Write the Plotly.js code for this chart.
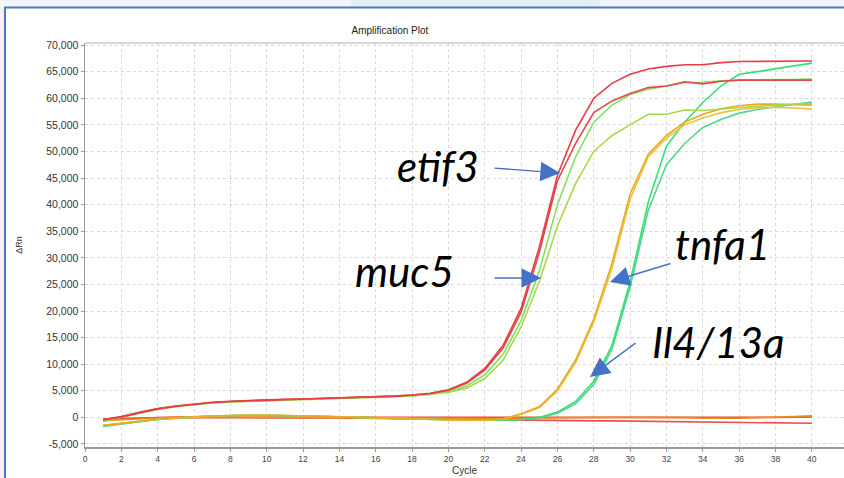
<!DOCTYPE html>
<html>
<head>
<meta charset="utf-8">
<script src="https://cdn.plot.ly/plotly-3.0.1.min.js"></script>
<style>html,body{margin:0;padding:0;background:#fff;}#chart{width:844px;height:478px;}</style>
</head>
<body>
<div id="chart"></div>
<script>
const cycles = Array.from({length: 40}, (_, i) => i + 1);

// etif3 (red)
const etif3A = [-500,100,900,1600,2100,2500,2800,3000,3150,3250,3350,3450,3550,3600,3700,3850,4000,4200,4550,
  5200,6600,9200,13500,20500,32000,45500,54000,60000,62800,64500,65500,66000,66300,66300,66700,66900,66900,66900,66900,67000];
const etif3B = [-400,150,950,1650,2150,2550,2850,3050,3200,3300,3400,3450,3550,3600,3700,3850,4000,4200,4500,
  5100,6400,8900,13000,19800,31000,44500,51500,57300,59500,60900,62000,62300,63100,62700,63200,63400,63400,63400,63300,63400];
// muc5 (green)
const muc5A = [-600,50,850,1550,2050,2450,2750,2950,3100,3200,3300,3400,3500,3550,3650,3800,3950,4100,4400,
  4900,5900,8000,11800,18200,27500,40000,49000,55500,58700,60700,61700,62300,62900,63000,63300,63400,63500,63500,63500,63600];
const muc5B = [-700,0,800,1500,2000,2400,2700,2900,3050,3150,3250,3350,3450,3500,3600,3750,3900,4050,4300,
  4700,5500,7300,10700,17000,25500,36000,44000,50000,53000,55000,57000,57000,57800,57700,58000,58300,58500,58700,58900,59000];
// tnfa1 (orange)
const tnfa1A = [-1500,-1100,-700,-350,-100,100,250,350,400,400,350,300,200,100,0,-100,-200,-300,-400,-500,-550,-500,-300,
  700,2000,5300,10800,18500,29000,42000,49500,53000,55500,57000,58000,58600,58900,58900,58800,58700];
const tnfa1B = [-1500,-1100,-700,-350,-100,100,250,350,400,400,350,300,200,100,0,-100,-200,-300,-400,-500,-550,-550,-350,
  600,1800,5000,10300,18000,28000,41000,49000,52500,55000,56300,57300,57900,58200,58300,58200,58000];
// Il4/13a (green)
const il4A = [-1600,-1150,-750,-400,-100,100,250,350,400,400,350,300,200,100,0,-100,-200,-300,-400,-500,-550,-550,-500,
  -400,0,1000,3000,6800,13500,25500,40500,51000,55500,59200,62300,64500,65000,65500,66100,66600];
const il4B = [-1700,-1200,-800,-400,-100,100,250,350,400,400,350,300,200,100,0,-100,-200,-300,-400,-500,-550,-550,-500,
  -450,-100,800,2600,6200,12800,24500,39000,47500,51500,54500,56000,57200,57900,58400,58900,59300];
// no amplification
const flatA = [-400,-250,-150,-50,0,0,0,0,0,0,0,0,-50,-100,-150,-200,-200,-250,-300,-300,-350,-400,-450,-500,-550,-600,-600,-650,-650,-700,-700,-750,-800,-850,-850,-900,-950,-1050,-1100,-1100];
const flatB = [-300,-200,-100,-50,0,0,0,0,0,0,0,0,0,0,0,0,0,0,0,-50,-50,-100,-100,-100,-50,0,0,0,0,0,0,0,0,0,0,0,0,0,50,100];
const flatC = [-600,-400,-250,-100,0,50,50,50,50,0,0,0,0,0,0,0,0,-50,-100,-150,-200,-250,-200,-150,-100,-50,0,0,0,0,0,0,-50,-150,-200,-150,-50,0,150,300];

const xTicks = [0,2,4,6,8,10,12,14,16,18,20,22,24,26,28,30,32,34,36,38,40];
const yTicks = [-5000,0,5000,10000,15000,20000,25000,30000,35000,40000,45000,50000,55000,60000,65000,70000];
const yTickText = ['-5,000','0','5,000','10,000','15,000','20,000','25,000','30,000','35,000','40,000','45,000','50,000','55,000','60,000','65,000','70,000'];

const series = [
  {y: flatA, c: '#e8505a'},
  {y: flatB, c: '#e84a30'},
  {y: flatC, c: '#e8901c'},
  {y: il4B, c: '#4cd88a'},
  {y: il4A, c: '#34e074'},
  {y: tnfa1B, c: '#f0c040'},
  {y: tnfa1A, c: '#e6ac20'},
  {y: muc5B, c: '#a8d848'},
  {y: muc5A, c: '#82e060'},
  {y: etif3B, c: '#e24848'},
  {y: etif3A, c: '#ea3c44'}
];
const traces = series.map(s => ({
  x: cycles, y: s.y, type: 'scatter', mode: 'lines',
  line: {color: s.c, width: 1.6}, hoverinfo: 'skip', showlegend: false
}));

const labelFont = {family: 'Lato, "Open Sans", sans-serif', size: 42, color: '#000', style: 'italic'};
const arrowBlue = '#4472c4';
const arrowOpts = {text: '', showarrow: true, arrowhead: 2, arrowsize: 2.8, arrowwidth: 1.4, arrowcolor: arrowBlue};
const annotations = [
  {x: 19.43, y: 47200, text: 'etif3', showarrow: false, font: labelFont},
  {x: 17.61, y: 27600, text: 'muc5', showarrow: false, font: labelFont},
  {x: 35.06, y: 32600, text: 'tnfa1', showarrow: false, font: labelFont},
  {x: 34.84, y: 14200, text: 'Il4/13a', showarrow: false, font: labelFont},
  Object.assign({x: 26.14, y: 45950, ax: -67, ay: -5}, arrowOpts),
  Object.assign({x: 25.10, y: 26200, ax: -48, ay: 0}, arrowOpts),
  Object.assign({x: 28.89, y: 25450, ax: 62, ay: -19}, arrowOpts),
  Object.assign({x: 27.79, y: 7600, ax: 47, ay: -35}, arrowOpts)
];

// frame decorations (paper coords: plot area spans px 85..844, py 43..447)
const px = v => (v - 85) / 759;
const py = v => (447 - v) / 404;
const shapes = [
  {type: 'rect', xref: 'paper', yref: 'paper', x0: px(0), x1: px(844), y0: py(7), y1: py(0), fillcolor: '#f2f5f9', line: {width: 0}, layer: 'below'},
  {type: 'rect', xref: 'paper', yref: 'paper', x0: px(350), x1: px(600), y0: py(7), y1: py(0), fillcolor: '#e6eff8', line: {width: 0}, layer: 'below'},
  {type: 'rect', xref: 'paper', yref: 'paper', x0: px(0), x1: px(5), y0: py(478), y1: py(7), fillcolor: '#fbeeee', line: {width: 0}, layer: 'below'},
  {type: 'line', xref: 'paper', yref: 'paper', x0: px(5), x1: px(5), y0: py(478), y1: py(7), line: {color: '#4a78c8', width: 2}},
  {type: 'line', xref: 'paper', yref: 'paper', x0: px(4), x1: px(844), y0: py(7.5), y1: py(7.5), line: {color: '#4a78c8', width: 2}},
  {type: 'line', xref: 'paper', yref: 'paper', x0: 0, x1: 1, y0: 1, y1: 1, line: {color: '#b0b0b0', width: 1}}
];

const layout = {
  width: 844, height: 478,
  margin: {l: 85, r: 0, t: 43, b: 31, pad: 0},
  paper_bgcolor: '#ffffff', plot_bgcolor: '#ffffff',
  font: {family: 'Arial, "Liberation Sans", sans-serif', color: '#333'},
  title: {text: 'Amplification Plot', font: {size: 10, color: '#222'}, x: 0.462, xanchor: 'center', y: 0.937, yanchor: 'middle'},
  xaxis: {
    range: [0, 41.77], tickvals: xTicks, ticktext: xTicks.map(String),
    showgrid: true, gridcolor: '#d9d9d9', griddash: 'dot', gridwidth: 1,
    showline: true, linecolor: '#999', linewidth: 1.5,
    ticks: 'outside', ticklen: 3, tickcolor: '#999',
    tickfont: {size: 8.5, color: '#444'}, zeroline: false,
    title: {text: 'Cycle', font: {size: 10, color: '#333'}, standoff: 4}
  },
  yaxis: {
    range: [-5565, 70387], tickvals: yTicks, ticktext: yTickText,
    showgrid: true, gridcolor: '#d9d9d9', griddash: 'dot', gridwidth: 1,
    showline: true, linecolor: '#999', linewidth: 1.5,
    ticks: 'outside', ticklen: 3, tickcolor: '#999',
    tickfont: {size: 10.5, color: '#333'}, zeroline: false,
    title: {text: 'ΔRn', font: {size: 9, color: '#333'}, standoff: 22}
  },
  shapes: shapes,
  annotations: annotations,
  showlegend: false
};

Plotly.newPlot('chart', traces, layout, {staticPlot: true, displayModeBar: false});
</script>
</body>
</html>
